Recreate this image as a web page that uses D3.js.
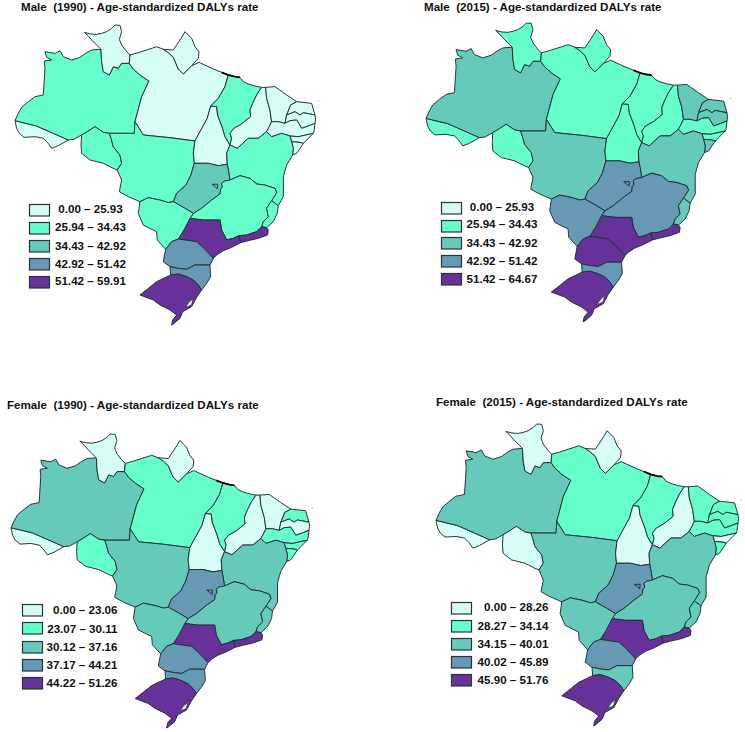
<!DOCTYPE html>
<html><head><meta charset="utf-8">
<script src="https://cdn.jsdelivr.net/npm/d3@7/dist/d3.min.js"></script>
<style>html,body{margin:0;background:#fff}svg{display:block}text{font-family:"Liberation Sans",Arial,sans-serif;font-weight:700;fill:#111;white-space:pre}</style>
</head><body><svg id="c" width="745" height="732"><defs><filter id="soft" x="-5%" y="-5%" width="110%" height="110%"><feGaussianBlur stdDeviation="0.3"/></filter></defs></svg>
<script>
// Shared state borders as [lon, lat] polylines.
const arcs = {
 rr_n:[[-62.79,2.10],[-63.35,2.66],[-64.00,3.31],[-64.44,3.83],[-64.96,4.31],[-64.13,4.10],[-63.35,4.05],[-62.70,4.18],[-62.05,4.40],[-61.39,4.83],[-60.96,5.27],[-60.31,5.23],[-60.09,4.40],[-60.39,3.40],[-60.09,2.66],[-59.44,1.79],[-59.00,1.36]],
 rr_am:[[-62.79,2.10],[-62.70,0.49],[-62.48,-0.82],[-61.70,-1.25],[-61.18,-0.17],[-60.53,-0.38],[-60.09,0.27],[-59.09,0.27]],
 rr_pa:[[-59.09,0.27],[-59.00,1.36]],
 am_pa:[[-59.09,0.27],[-58.57,-0.47],[-57.70,-1.25],[-56.53,-2.04],[-57.48,-4.08],[-58.35,-7.34]],
 am_n:[[-74,-7.21],[-73.57,-6.25],[-73.13,-5.47],[-72.26,-4.73],[-71.39,-4.08],[-70.31,-3.86],[-70.18,-1.90],[-70.09,-0.38],[-70.18,0.57],[-69.22,0.70],[-69.87,1.05],[-70.09,1.79],[-68.79,1.57],[-68.13,1.92],[-67.70,1.14],[-66.61,0.70],[-65.53,1.05],[-64.66,1.66],[-64.00,2.01],[-62.79,2.10]],
 am_ac:[[-74,-7.21],[-71.18,-7.90],[-69.00,-8.86],[-67.05,-9.73]],
 ac_s:[[-74,-7.21],[-73.79,-8.21],[-73.44,-8.86],[-72.83,-9.38],[-71.39,-9.30],[-70.31,-9.51],[-69.74,-10.08],[-69.22,-10.82],[-68.35,-10.47],[-67.05,-9.73]],
 am_s0:[[-67.05,-9.73],[-66.31,-9.64],[-65.31,-9.08]],
 am_ro:[[-65.31,-9.08],[-64.57,-8.64],[-63.57,-7.99],[-62.92,-8.43],[-62.48,-8.73],[-61.70,-8.86]],
 am_mt:[[-61.70,-8.86],[-58.44,-8.86],[-58.35,-7.34]],
 ro_s:[[-65.31,-9.08],[-65.39,-10.38],[-65.31,-11.47],[-64.22,-12.34],[-62.48,-12.77],[-61.18,-13.43],[-60.66,-13.64]],
 ro_mt:[[-60.66,-13.64],[-60.09,-12.77],[-60.31,-11.69],[-61.18,-10.60],[-61.48,-9.51],[-61.70,-8.86]],
 mt_s:[[-60.66,-13.64],[-60.09,-14.95],[-60.39,-16.47],[-59.22,-17.12],[-57.70,-17.77]],
 mt_ms:[[-57.70,-17.77],[-56.61,-17.25],[-55.74,-17.43],[-55.09,-17.56],[-54.00,-17.90],[-53.35,-17.77]],
 mt_go:[[-53.35,-17.77],[-52.92,-16.69],[-51.70,-15.60],[-51.05,-14.30],[-50.61,-12.77]],
 mt_to:[[-50.61,-12.77],[-50.74,-11.47],[-50.53,-9.86]],
 mt_pa:[[-50.53,-9.86],[-53.79,-9.43],[-57.26,-9.08],[-58.35,-7.34]],
 pa_to:[[-50.53,-9.86],[-49.87,-8.64],[-48.92,-6.90],[-48.48,-5.30]],
 pa_ma:[[-48.48,-5.30],[-47.48,-4.30],[-46.61,-2.77],[-46.18,-1.25]],
 pa_n:[[-59.00,1.36],[-57.92,1.66],[-56.83,2.01],[-55.53,2.44],[-54.66,2.10]],
 ap_n:[[-54.66,2.10],[-53.35,2.01],[-52.26,3.66],[-51.83,4.40],[-50.96,3.53],[-50.53,2.44],[-50.00,1.79],[-50.09,0.92],[-50.96,-0.04]],
 ap_pa:[[-54.66,2.10],[-54.00,1.66],[-53.35,1.05],[-52.70,-0.47],[-52.05,-1.12],[-50.96,-0.04]],
 pa_coast:[[-50.96,-0.04],[-50.00,0.40],[-48.13,-0.47],[-47.05,-0.90],[-46.18,-1.25]],
 ma_coast:[[-46.18,-1.25],[-45.31,-1.47],[-44.66,-1.56],[-44.22,-2.12],[-43.57,-2.43],[-42.70,-2.69],[-41.83,-2.86]],
 to_ma:[[-48.48,-5.30],[-47.70,-5.38],[-47.57,-6.47],[-46.92,-8.21],[-46.61,-9.30],[-45.96,-10.38]],
 ma_pi:[[-45.96,-10.38],[-45.74,-9.51],[-45.96,-8.86],[-45.44,-8.21],[-44.44,-7.64],[-43.26,-6.69],[-43.35,-5.82],[-43.00,-4.95],[-42.48,-3.86],[-41.83,-2.86]],
 to_ba:[[-45.96,-10.38],[-46.39,-11.47],[-46.31,-12.90]],
 to_go:[[-46.31,-12.90],[-47.48,-13.08],[-48.79,-12.77],[-50.61,-12.77]],
 go_ba:[[-46.31,-12.90],[-46.13,-13.86],[-45.96,-14.95]],
 go_mg:[[-45.96,-14.95],[-46.70,-15.10],[-47.05,-15.38],[-46.95,-15.90],[-47.18,-16.10],[-47.26,-16.77],[-48.35,-17.56],[-49.66,-18.64],[-50.74,-19.30]],
 go_ms:[[-50.74,-19.30],[-51.83,-18.64],[-53.35,-17.77]],
 ms_mg:[[-50.74,-19.30],[-51.18,-19.95]],
 ms_sp:[[-51.18,-19.95],[-51.96,-21.47],[-52.70,-22.64]],
 ms_pr:[[-52.70,-22.64],[-53.57,-22.99],[-54.35,-23.99]],
 ms_w:[[-54.35,-23.99],[-55.44,-22.77],[-55.53,-21.69],[-57.26,-20.82],[-57.92,-19.30],[-57.70,-17.77]],
 pr_w:[[-54.35,-23.99],[-54.66,-25.60],[-53.79,-26.25]],
 pr_sc:[[-53.79,-26.25],[-52.70,-26.47],[-51.61,-26.60],[-50.53,-26.04],[-48.57,-26.04]],
 pr_sp:[[-52.70,-22.64],[-50.31,-22.99],[-49.35,-23.86],[-48.13,-25.17]],
 pr_coast:[[-48.13,-25.17],[-48.57,-26.04]],
 sc_coast:[[-48.57,-26.04],[-48.48,-27.56],[-49.00,-28.43],[-49.66,-29.30]],
 sc_w:[[-53.79,-26.25],[-53.70,-27.34]],
 sc_rs:[[-53.70,-27.34],[-52.70,-27.21],[-51.61,-27.56],[-50.74,-27.99],[-50.09,-28.64],[-49.66,-29.30]],
 rs_o:[[-49.66,-29.30],[-50.31,-30.25],[-50.96,-31.47],[-52.13,-32.12],[-52.48,-32.99],[-53.35,-33.73],[-53.57,-33.86],[-53.44,-33.21],[-52.92,-32.56],[-53.79,-31.90],[-55.09,-31.25],[-55.96,-30.60],[-57.70,-29.95],[-56.61,-29.08],[-55.53,-28.21],[-53.70,-27.34]],
 mg_sp:[[-51.18,-19.95],[-49.44,-20.17],[-47.26,-20.17],[-47.05,-21.47],[-46.39,-22.77],[-45.53,-22.56],[-44.79,-22.21]],
 mg_rj:[[-44.79,-22.21],[-43.79,-22.12],[-42.48,-21.69],[-41.83,-21.04]],
 sp_rj:[[-44.79,-22.21],[-44.57,-23.12]],
 sp_coast:[[-44.57,-23.12],[-45.74,-23.73],[-46.83,-24.17],[-47.70,-24.73],[-48.13,-25.17]],
 rj_coast:[[-44.57,-23.12],[-43.57,-22.86],[-42.26,-22.56],[-41.05,-22.12],[-40.96,-21.47],[-41.18,-21.17]],
 es_rj:[[-41.83,-21.04],[-41.18,-21.17]],
 es_coast:[[-41.18,-21.17],[-40.31,-20.38],[-39.79,-19.30],[-39.66,-18.30]],
 mg_es:[[-41.83,-21.04],[-41.61,-20.38],[-40.96,-19.73],[-41.18,-18.64],[-40.53,-17.64]],
 es_ba:[[-40.53,-17.64],[-39.66,-18.30]],
 mg_ba:[[-45.96,-14.95],[-44.66,-14.38],[-43.35,-14.73],[-42.48,-15.47],[-41.39,-15.60],[-40.09,-16.04],[-39.87,-16.60],[-40.53,-17.64]],
 ba_coast:[[-37.79,-11.69],[-38.57,-12.99],[-39.00,-14.51],[-39.00,-17.12],[-39.66,-18.30]],
 pi_coast:[[-41.83,-2.86],[-41.31,-2.86]],
 pi_ce:[[-41.31,-2.86],[-41.18,-4.30],[-40.74,-5.82],[-40.53,-7.34]],
 pi_pe:[[-40.53,-7.34],[-40.83,-7.99],[-41.18,-8.64]],
 pi_ba:[[-41.18,-8.64],[-42.26,-9.51],[-43.57,-9.51],[-45.00,-10.82],[-45.96,-10.38]],
 pe_ba:[[-41.18,-8.64],[-40.53,-9.30],[-39.22,-8.86],[-38.13,-9.21]],
 ba_al:[[-38.13,-9.21],[-37.92,-9.95]],
 ba_se:[[-37.92,-9.95],[-37.70,-10.82],[-37.79,-11.69]],
 ce_coast:[[-41.31,-2.86],[-40.09,-2.77],[-38.57,-3.86],[-37.26,-4.73]],
 ce_rn:[[-38.57,-6.47],[-38.05,-5.17],[-37.26,-4.73]],
 ce_pb:[[-38.57,-6.47],[-38.79,-7.56]],
 ce_pe:[[-40.53,-7.34],[-39.66,-7.34],[-38.79,-7.56]],
 rn_coast:[[-37.26,-4.73],[-35.31,-4.95],[-34.87,-6.47]],
 pb_rn:[[-38.57,-6.47],[-37.48,-6.04],[-36.83,-6.47],[-36.39,-6.17],[-34.87,-6.47]],
 pb_coast:[[-34.87,-6.47],[-34.80,-7.00],[-34.87,-7.56]],
 pe_pb:[[-34.87,-7.56],[-35.74,-7.90],[-36.61,-8.21],[-37.26,-7.12],[-38.13,-7.21],[-38.79,-7.56]],
 pe_coast:[[-34.87,-7.56],[-35.00,-8.64],[-35.09,-8.86]],
 pe_al:[[-35.09,-8.86],[-37.05,-9.30],[-38.13,-9.21]],
 al_coast:[[-35.09,-8.86],[-36.39,-10.17]],
 al_se:[[-36.39,-10.17],[-36.83,-10.04],[-37.92,-9.95]],
 se_coast:[[-36.39,-10.17],[-37.26,-11.47],[-37.79,-11.69]]
};
// Rings: arc names in order, "~" walks an arc backwards.
const stateCodes = ["AC","AM","RR","PA","AP","RO","MT","TO","MA","PI","CE","RN","PB","PE","AL","SE","BA","GO","MG","ES","RJ","SP","MS","PR","SC","RS","DF"];
const stateRings = {
 AC:["am_ac","~ac_s"], AM:["am_n","rr_am","am_pa","~am_mt","~am_ro","~am_s0","~am_ac"], RR:["rr_n","~rr_pa","~rr_am"],
 PA:["pa_n","ap_pa","pa_coast","~pa_ma","~pa_to","mt_pa","~am_pa","rr_pa"], AP:["ap_n","~ap_pa"], RO:["am_ro","~ro_mt","~ro_s"],
 MT:["ro_mt","am_mt","~mt_pa","~mt_to","~mt_go","~mt_ms","~mt_s"], TO:["mt_to","pa_to","to_ma","to_ba","to_go"],
 MA:["pa_ma","ma_coast","~ma_pi","~to_ma"], PI:["ma_pi","pi_coast","pi_ce","pi_pe","pi_ba"],
 CE:["ce_coast","~ce_rn","ce_pb","~ce_pe","~pi_ce"], RN:["ce_rn","rn_coast","~pb_rn"], PB:["pb_rn","pb_coast","pe_pb","~ce_pb"],
 PE:["ce_pe","~pe_pb","pe_coast","pe_al","~pe_ba","~pi_pe"], AL:["~pe_al","al_coast","al_se","~ba_al"], SE:["~al_se","se_coast","~ba_se"],
 BA:["~to_ba","~pi_ba","pe_ba","ba_al","ba_se","ba_coast","~es_ba","~mg_ba","~go_ba"], GO:["~to_go","go_ba","go_mg","go_ms","mt_go"],
 MG:["mg_ba","~mg_es","~mg_rj","~mg_sp","~ms_mg","~go_mg"], ES:["mg_es","es_ba","~es_coast","~es_rj"], RJ:["mg_rj","es_rj","~rj_coast","~sp_rj"],
 SP:["mg_sp","sp_rj","sp_coast","~pr_sp","~ms_sp"], MS:["mt_ms","~go_ms","ms_mg","ms_sp","ms_pr","ms_w"],
 PR:["~ms_pr","pr_sp","pr_coast","~pr_sc","~pr_w"], SC:["pr_sc","sc_coast","~sc_rs","~sc_w"], RS:["sc_rs","rs_o"]
};
const dfRing = [[-48.30,-15.50],[-47.55,-15.50],[-47.60,-16.08],[-48.30,-16.08]];
const lagoon = [[-51.74,-31.56],[-51.31,-30.90],[-50.79,-30.47],[-51.00,-31.25],[-51.74,-31.99]];
const heavyCoast = [[-47.05,-0.90],[-46.18,-1.25],[-45.31,-1.47],[-44.66,-1.56]];
const islandDot = [-34.44,-4.60];

// Class index per state, in stateCodes order.
const male1990Class   = [0,1,0,0,0,1,1,0,1,0,0,0,0,0,0,0,1,2,1,1,4,4,1,3,3,4,2];
const male2015Class   = [1,2,1,1,1,1,2,1,1,1,2,2,2,1,1,2,2,3,3,2,4,4,3,4,3,4,3];
const female1990Class = [0,2,0,1,0,1,2,0,1,0,0,1,0,1,1,1,2,3,2,2,4,4,2,3,3,4,3];
const female2015Class = [0,2,0,1,0,0,2,0,1,0,1,1,1,1,0,1,2,3,2,2,4,4,2,3,2,4,3];

const male1990Labels   = ["0.00 – 25.93","25.94 – 34.43","34.43 – 42.92","42.92 – 51.42","51.42 – 59.91"];
const male2015Labels   = ["0.00 – 25.93","25.94 – 34.43","34.43 – 42.92","42.92 – 51.42","51.42 – 64.67"];
const female1990Labels = ["0.00 – 23.06","23.07 – 30.11","30.12 – 37.16","37.17 – 44.21","44.22 – 51.26"];
const female2015Labels = ["0.00 – 28.26","28.27 – 34.14","34.15 – 40.01","40.02 – 45.89","45.90 – 51.76"];
const classColors = ["#d6fdf6","#66ffcc","#66cabb","#6699b3","#663399"];

const panels = [
 {title:"Male  (1990) - Age-standardized DALYs rate", cls:male1990Class, labels:male1990Labels, tx:21, ty:10.7, xr:[15,315], yr:[25,325], lx:29, ly:[204,222,240,258,276], lab:"middle", labx:90.5, laby:[209,227,246,264,281]},
 {title:"Male  (2015) - Age-standardized DALYs rate", cls:male2015Class, labels:male2015Labels, tx:424, ty:10.7, xr:[426,727], yr:[23,322], lx:441, ly:[202,220,237,255,273], lab:"middle", labx:502, laby:[207,224,243,261,279]},
 {title:"Female  (1990) - Age-standardized DALYs rate", cls:female1990Class, labels:female1990Labels, tx:7, ty:409, xr:[11,309], yr:[434,728], lx:22, ly:[604,622,641,659,677], lab:"end", labx:117.5, laby:[610,629,647,665,683]},
 {title:"Female  (2015) - Age-standardized DALYs rate", cls:female2015Class, labels:female2015Labels, tx:436, ty:406, xr:[436,738], yr:[424,726], lx:451, ly:[602,620,638,656,674], lab:"end", labx:548.5, laby:[607,626,644,662,680]}
];

const lonDomain = [-74,-34.87], latDomain = [5.27,-33.86];
const ringOf = code => {
  if (code === "DF") return dfRing;
  const pts = [];
  stateRings[code].forEach(n => {
    const a = n[0] === "~" ? arcs[n.slice(1)].slice().reverse() : arcs[n];
    pts.push(...a);
  });
  return pts;
};
const features = stateCodes.map((code,i) => ({type:"Feature", properties:{code,i}, geometry:{type:"Polygon", coordinates:[ringOf(code)]}}));
const svg = d3.select("#c");
const color = d3.scaleOrdinal([0,1,2,3,4], classColors);

panels.forEach(p => {
  const sx = d3.scaleLinear(lonDomain, p.xr), sy = d3.scaleLinear(latDomain, p.yr);
  const proj = d3.geoTransform({point(x,y){this.stream.point(sx(x),sy(y));}});
  const path = d3.geoPath(proj).pointRadius(0.5);
  const g = svg.append("g").attr("filter","url(#soft)");
  g.selectAll("path.state").data(features).join("path").attr("class","state")
    .attr("d",path).attr("fill",d=>color(p.cls[d.properties.i]))
    .attr("stroke","#1f2d33").attr("stroke-width",0.95).attr("stroke-linejoin","round");
  g.append("path").attr("d",path({type:"Polygon",coordinates:[lagoon]})).attr("fill","#fff").attr("stroke","#24333a").attr("stroke-width",0.6);
  g.append("path").attr("d",path({type:"LineString",coordinates:heavyCoast})).attr("fill","none").attr("stroke","#000").attr("stroke-width",1.8);
  g.append("path").attr("d",path({type:"Point",coordinates:islandDot})).attr("fill","#777");
  svg.append("text").attr("x",p.tx).attr("y",p.ty).attr("font-size",11.6).text(p.title);
  p.labels.forEach((t,i) => {
    svg.append("rect").attr("x",p.lx+.5).attr("y",p.ly[i]+.5).attr("width",20).attr("height",11.5)
      .attr("fill",classColors[i]).attr("stroke","#2a3338").attr("stroke-width",1.2);
    svg.append("text").attr("x",p.labx).attr("y",p.laby[i]+4).attr("text-anchor",p.lab).attr("font-size",11.6).text(t);
  });
});
</script></body></html>
